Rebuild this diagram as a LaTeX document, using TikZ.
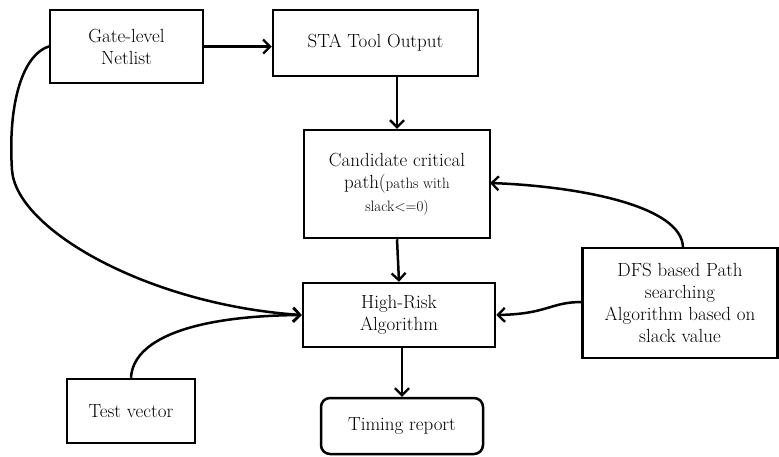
\documentclass[tikz,border=0pt]{standalone}
\usetikzlibrary{arrows.meta}
\begin{document}
\begin{tikzpicture}[x=1pt,y=-1pt,
  box/.style={draw,line width=2.5pt,align=center,inner sep=0pt,
    font=\fontsize{19}{22}\selectfont},
  small/.style={font=\fontsize{15}{22}\selectfont},
  conn/.style={line width=2.5pt,-{Straight Barb[length=7pt,width=14pt,line width=2.3pt]}}]
\useasboundingbox (0,0) rectangle (779,456);

\node[box,minimum width=153pt,minimum height=73pt] (gate) at (126.5,46.5) {Gate-level\\Netlist};
\node[box,minimum width=205pt,minimum height=66pt] (sta) at (375.5,43) {STA Tool Output};
\node[box,minimum width=186pt,minimum height=108pt] (cand) at (397,184)
  {Candidate critical\\path({\fontsize{15}{22}\selectfont paths with}\\[1pt]{\fontsize{15}{22}\selectfont slack<=0)}};
\node[box,minimum width=192pt,minimum height=64pt] (high) at (399,315) {High-Risk\\Algorithm};
\node[box,rounded corners=9pt,minimum width=162pt,minimum height=56pt] (timing) at (402,426) {Timing report};
\node[box,minimum width=128pt,minimum height=64pt] (test) at (131,411) {Test vector};
\node[box,minimum width=195pt,minimum height=110pt] (dfs) at (680,303)
  {DFS based Path\\searching\\Algorithm based on\\slack value};

% straight flow
\draw[conn] (gate.east) -- (sta.west |- gate.east);
\draw[conn] (sta.south -| cand.north) -- (cand.north);
\draw[conn] (cand.south) -- (high.north);
\draw[conn] ([xshift=3pt]high.south) -- ([xshift=3pt]high.south |- timing.north);

% curved inputs
\coordinate (dfsTop) at (683,248);
\coordinate (candIn) at (490,183);
\draw[conn] (dfsTop) .. controls (683,205) and (575,186) .. (candIn);
\coordinate (dfsOut) at (582,302);
\draw[conn] (dfsOut) .. controls (550,302) and (548,314) .. (high.east);
\coordinate (gateOut) at (50,46);
\draw[conn] (gateOut) .. controls (20,55) and (8,110) .. (12,170)
  .. controls (16,230) and (150,305) .. (high.west);
\draw[conn] (test.north) .. controls (133,340) and (190,316) .. (high.west);
\end{tikzpicture}
\end{document}
